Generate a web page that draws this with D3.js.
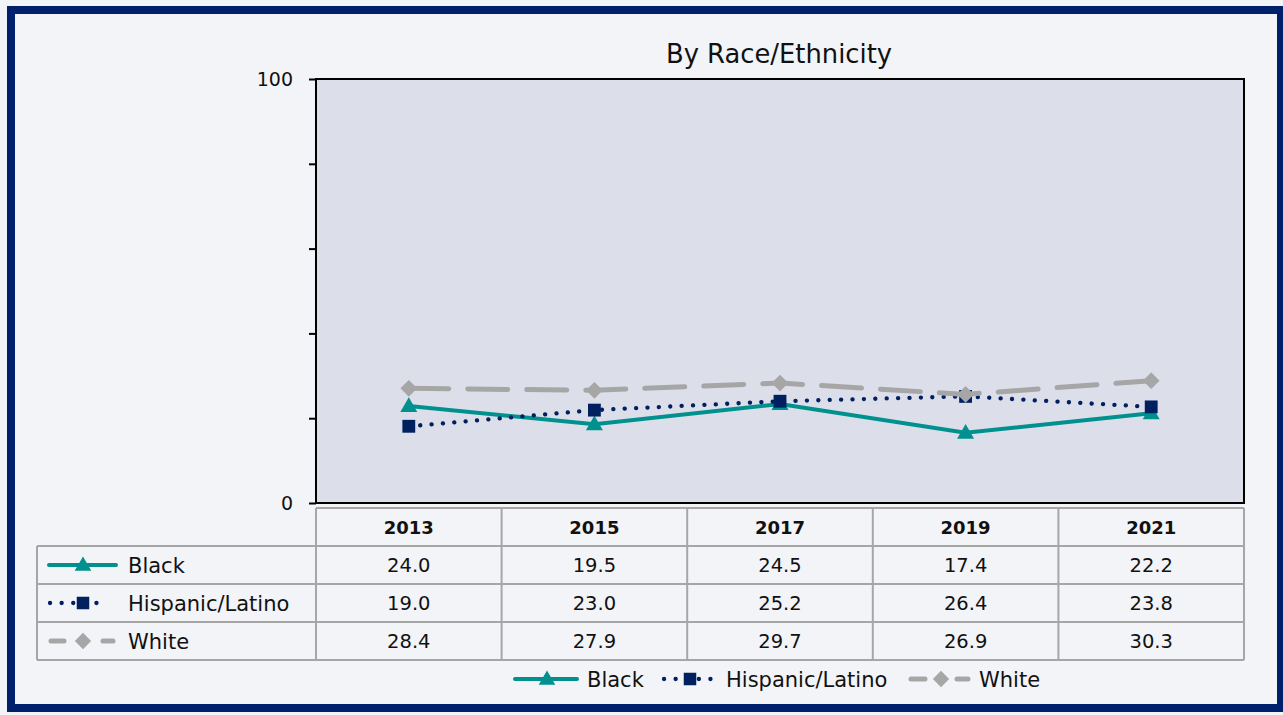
<!DOCTYPE html>
<html><head><meta charset="utf-8">
<script src="https://cdn.jsdelivr.net/npm/d3@7"></script>
<style>
html,body{margin:0;padding:0;background:#f3f4f8;}
svg{display:block;}
text{font-family:"DejaVu Sans",sans-serif;fill:#111;}
</style></head>
<body>
<svg id="c" width="1283" height="715"></svg>
<script>
const years = ["2013","2015","2017","2019","2021"];
const seriesNames = ["Black","Hispanic/Latino","White"];
const black = [24.0,19.5,24.5,17.4,22.2];
const hispanic = [19.0,23.0,25.2,26.4,23.8];
const white = [28.4,27.9,29.7,26.9,30.3];
const yTicks = [0,20,40,60,80,100];
const yTickLabels = ["0","","","","","100"];
const title = "By Race/Ethnicity";

const series = [
  {name:seriesNames[0], values:black, color:"#00918f", dash:null, width:4, cap:"butt", marker:"triangle"},
  {name:seriesNames[1], values:hispanic, color:"#002060", dash:"0.1,11.3", width:4.3, cap:"round", marker:"square"},
  {name:seriesNames[2], values:white, color:"#a6a6a6", dash:"40,19", width:5, cap:"round", marker:"diamond"}
];

const svg = d3.select("#c");
const L=316, R=1244, T=79, B=503;
const x = d3.scaleBand().domain(years).range([L,R]).padding(0);
const yAxisScale = d3.scaleLinear().domain([0,100]).range([B,T]);
// the reference plots its lines on a slightly compressed value scale
const y = d3.scaleLinear().domain([0,105]).range([B,T]);

// outer frame
svg.append("rect").attr("x",11).attr("y",10).attr("width",1270).attr("height",698)
  .attr("fill","#f3f4f8").attr("stroke","#00206b").attr("stroke-width",8);

// plot area
svg.append("rect").attr("x",L).attr("y",T).attr("width",R-L).attr("height",B-T)
  .attr("fill","#dcdfe9");

// title
svg.append("text").attr("x",(L+R)/2-1).attr("y",63).attr("text-anchor","middle")
  .style("font-size","25.8px").text(title);

// y axis
const yAxis = d3.axisLeft(yAxisScale).tickValues(yTicks).tickSize(7).tickPadding(16)
  .tickFormat((d,i)=>yTickLabels[i]);
const ga = svg.append("g").attr("transform",`translate(${L},0)`).call(yAxis);
ga.select(".domain").remove();
ga.selectAll(".tick line").attr("stroke","#000").attr("stroke-width",2);
ga.selectAll(".tick text").style("font-size","19px").style("font-family","DejaVu Sans").attr("fill","#111");

// plot border
svg.append("rect").attr("x",L).attr("y",T).attr("width",R-L).attr("height",B-T)
  .attr("fill","none").attr("stroke","#000").attr("stroke-width",2);

const markerSize = {triangle:125, square:165, diamond:140};
function drawMarker(g, s, cx, cy, scale){
  const sc = scale||1;
  if(s.marker==="diamond"){
    g.append("path").attr("d",d3.symbol().type(d3.symbolSquare).size(markerSize.diamond*sc)())
      .attr("transform",`translate(${cx},${cy}) rotate(45)`).attr("fill",s.color);
  } else if(s.marker==="triangle"){
    g.append("path").attr("d",d3.symbol().type(d3.symbolTriangle).size(markerSize.triangle*sc)())
      .attr("transform",`translate(${cx},${cy+1})`).attr("fill",s.color);
  } else {
    g.append("path").attr("d",d3.symbol().type(d3.symbolSquare).size(markerSize.square*sc)())
      .attr("transform",`translate(${cx},${cy})`).attr("fill",s.color);
  }
}

const line = d3.line().x((d,i)=>x(years[i])+x.bandwidth()/2).y(d=>y(d));
series.forEach(s=>{
  const g = svg.append("g");
  g.append("path").attr("d",line(s.values)).attr("fill","none")
    .attr("stroke",s.color).attr("stroke-width",s.width)
    .attr("stroke-dasharray",s.dash).attr("stroke-linecap",s.cap);
  s.values.forEach((v,i)=>drawMarker(g,s,x(years[i])+x.bandwidth()/2,y(v)));
});

// data table
const grid = "#a6a6a6";
const rowTop = 508, rowH = 38, legL = 37;
const tg = svg.append("g");
years.forEach((yr,i)=>{
  tg.append("text").attr("x",x(yr)+x.bandwidth()/2).attr("y",rowTop+rowH/2+7)
    .attr("text-anchor","middle").style("font-size","18px").style("font-weight","bold").text(yr);
});
const keyDash = [null,"0.1,11.5","13,39"];
const keyX = [[49,116],[50,108],[51,113]];
series.forEach((s,r)=>{
  const cy = rowTop+rowH*(r+1)+rowH/2;
  s.values.forEach((v,i)=>{
    tg.append("text").attr("x",x(years[i])+x.bandwidth()/2).attr("y",cy+7)
      .attr("text-anchor","middle").style("font-size","19.5px").text(v.toFixed(1));
  });
  tg.append("line").attr("x1",keyX[r][0]).attr("x2",keyX[r][1]).attr("y1",cy).attr("y2",cy)
    .attr("stroke",s.color).attr("stroke-width",s.width)
    .attr("stroke-dasharray",keyDash[r]).attr("stroke-linecap","round");
  drawMarker(tg,s,83,cy,0.95);
  tg.append("text").attr("x",128).attr("y",cy+7.5).style("font-size","21px").text(s.name);
});
const bottom = rowTop+rowH*4;
tg.append("line").attr("x1",L).attr("x2",R).attr("y1",rowTop).attr("y2",rowTop).attr("stroke",grid).attr("stroke-width",2);
for(let r=1;r<=4;r++){
  tg.append("line").attr("x1",legL).attr("x2",R).attr("y1",rowTop+rowH*r).attr("y2",rowTop+rowH*r).attr("stroke",grid).attr("stroke-width",2);
}
years.forEach(yr=>{
  tg.append("line").attr("x1",x(yr)).attr("x2",x(yr)).attr("y1",rowTop).attr("y2",bottom).attr("stroke",grid).attr("stroke-width",2);
});
tg.append("line").attr("x1",R).attr("x2",R).attr("y1",rowTop).attr("y2",bottom).attr("stroke",grid).attr("stroke-width",2);
tg.append("line").attr("x1",legL).attr("x2",legL).attr("y1",rowTop+rowH).attr("y2",bottom).attr("stroke",grid).attr("stroke-width",2);

// bottom legend
const lg = svg.append("g");
const ly = 679;
const legItems = [
  {s:series[0], x1:515, x2:577, mx:547, tx:587, dash:null},
  {s:series[1], x1:664, x2:722, mx:690, tx:726, dash:"0.1,11.5"},
  {s:series[2], x1:911, x2:968, mx:941, tx:979, dash:"14,32"}
];
legItems.forEach(it=>{
  lg.append("line").attr("x1",it.x1).attr("x2",it.x2).attr("y1",ly).attr("y2",ly)
    .attr("stroke",it.s.color).attr("stroke-width",it.s.width)
    .attr("stroke-dasharray",it.dash).attr("stroke-linecap","round");
  drawMarker(lg,it.s,it.mx,ly,0.95);
  lg.append("text").attr("x",it.tx).attr("y",ly+7.5).style("font-size","21px").text(it.s.name);
});
</script>
</body></html>
